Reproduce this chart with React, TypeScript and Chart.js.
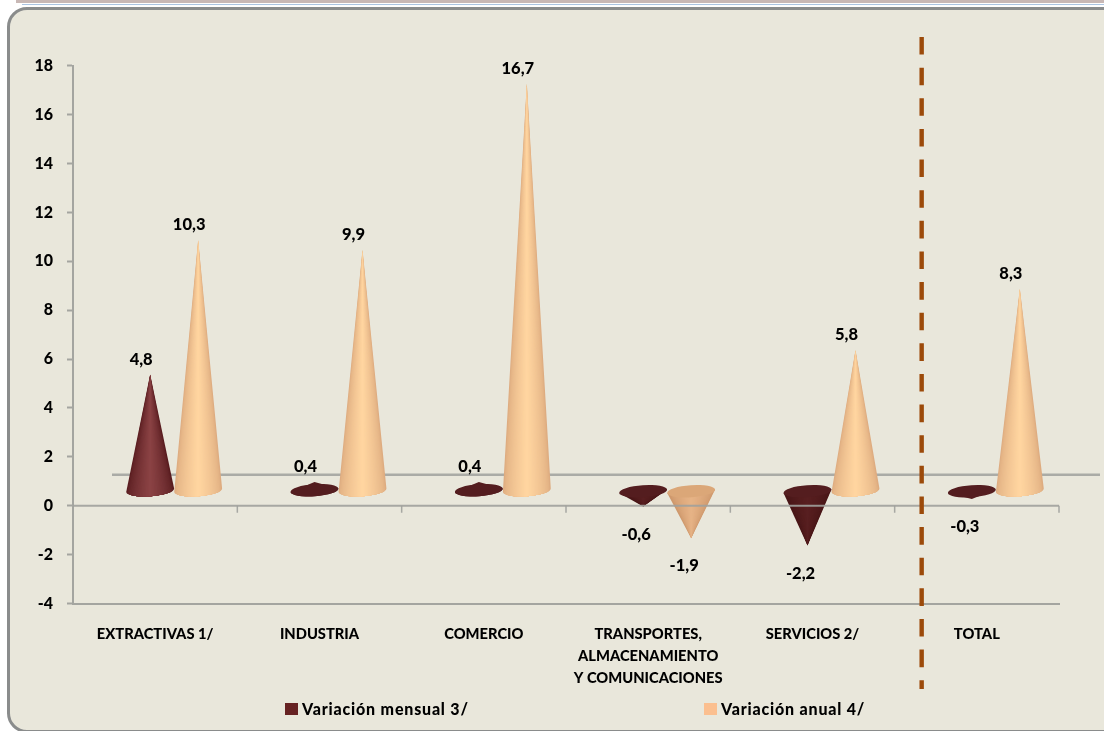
import React, { useEffect, useRef } from "react";
import { Chart, registerables } from "chart.js";

Chart.register(...registerables);

const categories: (string | string[])[] = [
  "EXTRACTIVAS 1/",
  "INDUSTRIA",
  "COMERCIO",
  ["TRANSPORTES,", "ALMACENAMIENTO", "Y COMUNICACIONES"],
  "SERVICIOS 2/",
  "TOTAL",
];
const variacionMensual = [4.8, 0.4, 0.4, -0.6, -2.2, -0.3];
const variacionAnual = [10.3, 9.9, 16.7, -1.9, 5.8, 8.3];
const seriesNames = ["Variación mensual 3/", "Variación anual 4/"];
const seriesColors = ["#662222", "#FBBF8F"];

const FONT = "Lato, Carlito, sans-serif";
const GREY = "#a4a5a0";

const DEPTH_X = 19;
const DEPTH_Y = 15;
const RY = 6;
const TILT = -0.07;
const LAYERS = 16;

const conePalette = [
  { edge: [88, 28, 31], mid: [138, 66, 68], negEdge: [72, 22, 23], negMid: [88, 31, 32], top: "#541d1f" },
  { edge: [222, 172, 128], mid: [255, 213, 160], negEdge: [206, 152, 108], negMid: [230, 179, 134], top: "#dba778" },
];

function mix(a: number[], b: number[], t: number) {
  return `rgb(${a.map((v, i) => Math.round(v + (b[i] - v) * t)).join(",")})`;
}

function drawCone(ctx: CanvasRenderingContext2D, cx: number, cy: number, rx: number, tip: number, dsIndex: number, negative: boolean) {
  const p = conePalette[dsIndex];
  const lx = cx - rx * Math.cos(TILT);
  const ly = cy - rx * Math.sin(TILT);
  const rxx = cx + rx * Math.cos(TILT);
  const ry = cy + rx * Math.sin(TILT);
  const flat = Math.abs(cy - tip) < RY + 6;
  const edge = negative ? p.negEdge : p.edge;
  const mid = negative ? p.negMid : p.mid;
  ctx.save();
  ctx.beginPath();
  ctx.moveTo(lx, ly);
  ctx.lineTo(cx, tip);
  ctx.lineTo(rxx, ry);
  if (negative) ctx.closePath();
  else {
    ctx.ellipse(cx, cy, rx, RY, TILT, 0, Math.PI);
    ctx.closePath();
  }
  if (flat) {
    ctx.fillStyle = p.top;
    ctx.fill();
    ctx.beginPath();
    ctx.ellipse(cx, cy, rx, RY, TILT, 0, Math.PI * 2);
    ctx.fill();
    ctx.restore();
    return;
  }
  ctx.fillStyle = mix(edge, mid, 0);
  ctx.fill();
  ctx.clip();
  // Nested wedges sharing the tip, so the shading narrows with the cone.
  const h = cy - tip;
  const extra = (negative ? -1 : 1) * (RY + 4);
  const scale = (h + extra) / h;
  for (let k = 1; k <= LAYERS; k++) {
    const t = k / LAYERS;
    const half = rx * (1 - t * 0.94) * scale;
    ctx.fillStyle = mix(edge, mid, Math.pow(t, 0.65));
    ctx.beginPath();
    ctx.moveTo(cx, tip);
    ctx.lineTo(cx + half, cy + extra);
    ctx.lineTo(cx - half, cy + extra);
    ctx.closePath();
    ctx.fill();
  }
  ctx.restore();
  if (negative) {
    ctx.save();
    ctx.fillStyle = p.top;
    ctx.beginPath();
    ctx.ellipse(cx, cy, rx, RY, TILT, 0, Math.PI * 2);
    ctx.fill();
    ctx.restore();
  }
}

const conePlugin = {
  id: "cones",
  beforeDatasetsDraw(chart: any) {
    const { ctx, scales } = chart;
    const yFloor = scales.y.getPixelForValue(0) - 31;
    ctx.save();
    ctx.strokeStyle = "#aaaba6";
    ctx.lineWidth = 2.5;
    ctx.beginPath();
    ctx.moveTo(112, yFloor);
    ctx.lineTo(1100, yFloor);
    ctx.stroke();
    ctx.restore();
  },
  beforeDatasetDraw() {
    return false;
  },
  afterDatasetsDraw(chart: any) {
    const { ctx, scales, data } = chart;
    data.datasets.forEach((ds: any, di: number) => {
      chart.getDatasetMeta(di).data.forEach((bar: any, i: number) => {
        const v = ds.data[i];
        drawCone(ctx, bar.x + DEPTH_X, bar.base - DEPTH_Y, bar.width / 2, bar.y - 14, di, v < 0);
      });
    });

    // zero line with category ticks
    const y0 = scales.y.getPixelForValue(0);
    const x = scales.x;
    const step = x.getPixelForValue(1) - x.getPixelForValue(0);
    ctx.save();
    ctx.strokeStyle = "rgba(160,161,156,0.9)";
    ctx.lineWidth = 2;
    ctx.beginPath();
    ctx.moveTo(chart.chartArea.left, y0);
    ctx.lineTo(chart.chartArea.right, y0);
    ctx.stroke();
    ctx.lineWidth = 1.5;
    ctx.beginPath();
    data.labels.forEach((_: any, i: number) => {
      const bx = x.getPixelForValue(i) + step / 2;
      ctx.moveTo(bx, y0);
      ctx.lineTo(bx, y0 + 7);
    });
    ctx.stroke();

    // separator before the last category
    const sepX = x.getPixelForValue(4) + step / 2 + 27;
    ctx.strokeStyle = "#9c4a0a";
    ctx.lineWidth = 4.4;
    ctx.setLineDash([17.6, 13.03]);
    ctx.beginPath();
    ctx.moveTo(sepX, 37);
    ctx.lineTo(sepX, 689);
    ctx.stroke();
    ctx.setLineDash([]);

    // value labels
    ctx.fillStyle = "#000";
    ctx.font = `900 16.5px ${FONT}`;
    ctx.textAlign = "center";
    ctx.textBaseline = "middle";
    data.datasets.forEach((ds: any, di: number) => {
      chart.getDatasetMeta(di).data.forEach((bar: any, i: number) => {
        const v = ds.data[i];
        const tipX = bar.x + DEPTH_X;
        const tipY = bar.y - 14;
        const text = String(v).replace(".", ",");
        if (v >= 0) ctx.fillText(text, tipX - 9, tipY - 15);
        else ctx.fillText(text, tipX - 7, tipY + 28);
      });
    });

    // legend
    const legendX = [285, 704];
    ctx.textAlign = "left";
    ctx.font = `900 16px ${FONT}`;
    (ctx as any).letterSpacing = "0.8px";
    seriesNames.forEach((name, i) => {
      ctx.fillStyle = seriesColors[i];
      ctx.fillRect(legendX[i], 703, 13, 12);
      ctx.fillStyle = "#000";
      ctx.fillText(name, legendX[i] + 17, 710);
    });
    (ctx as any).letterSpacing = "0px";
    ctx.restore();
  },
};

export default function App() {
  const ref = useRef<HTMLCanvasElement>(null);
  useEffect(() => {
    const chart = new Chart(ref.current as HTMLCanvasElement, {
      type: "bar",
      data: {
        labels: categories as any,
        datasets: [
          { label: seriesNames[0], data: variacionMensual, backgroundColor: seriesColors[0], barThickness: 48 },
          { label: seriesNames[1], data: variacionAnual, backgroundColor: seriesColors[1], barThickness: 48 },
        ],
      },
      plugins: [conePlugin as any],
      options: {
        animation: false,
        responsive: false,
        devicePixelRatio: 1,
        layout: { padding: { left: 0, top: 65.7, right: 45, bottom: 0 } },
        plugins: { legend: { display: false }, tooltip: { enabled: false } },
        scales: {
          x: {
            grid: { display: false, drawTicks: false },
            border: { display: true, color: GREY, width: 2 },
            afterFit(scale: any) {
              scale.height = 127.5;
            },
            ticks: {
              maxRotation: 0,
              autoSkip: false,
              padding: 20,
              color: "#000",
              font: { family: FONT, weight: "900", size: 14.7, lineHeight: 22 / 14.7 },
            },
          },
          y: {
            min: -4,
            max: 18,
            afterFit(scale: any) {
              scale.width = 73;
            },
            grid: { drawOnChartArea: false, drawTicks: true, tickLength: 6, tickColor: GREY, tickWidth: 2 },
            border: { display: true, color: GREY, width: 2 },
            ticks: {
              stepSize: 2,
              padding: 14,
              color: "#000",
              font: { family: FONT, weight: "900", size: 16 },
            },
          },
        },
      } as any,
    });
    return () => chart.destroy();
  }, []);

  return (
    <div style={{ position: "absolute", left: 0, top: 0, width: 1104, height: 731, overflow: "hidden", background: "#fff" }}>
      <div style={{ position: "absolute", left: 16, right: 0, top: 0, height: 3, background: "#c8b8b5" }} />
      <div style={{ position: "absolute", left: 22, right: 0, top: 4, height: 1, background: "#aac4e2" }} />
      <div
        style={{
          position: "absolute",
          left: 7,
          top: 7,
          width: 1130,
          height: 726,
          boxSizing: "border-box",
          border: "3px solid #8a8c8c",
          borderRadius: 20,
          background: "#E9E7DB",
        }}
      />
      <canvas ref={ref} width={1104} height={731} style={{ position: "absolute", left: 0, top: 0, display: "block" }} />
    </div>
  );
}
